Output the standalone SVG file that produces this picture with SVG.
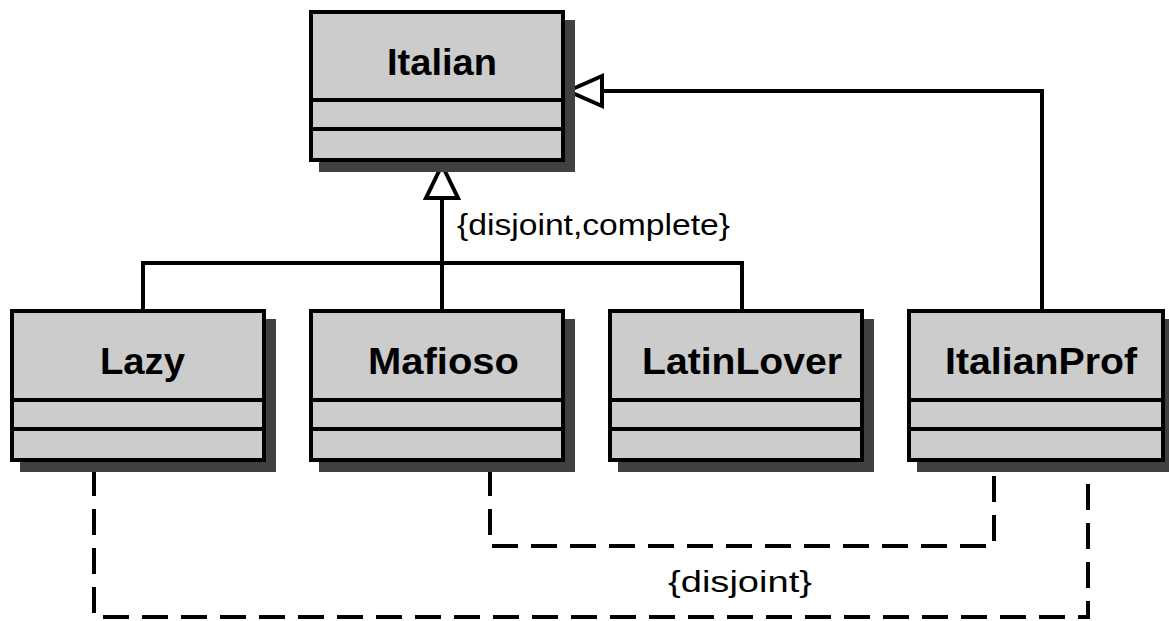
<svg xmlns="http://www.w3.org/2000/svg" width="1169" height="621" viewBox="0 0 1169 621">
<style>
.shadow{fill:#404040;stroke:none}
.box{fill:#cccccc;stroke:#000;stroke-width:4}
.div{stroke:#000;stroke-width:4}
.name{font-family:"Liberation Sans",Arial,sans-serif;font-weight:bold;font-size:37px;fill:#000}
.lbl{font-family:"Liberation Sans",Arial,sans-serif;font-size:29px;fill:#000}
.solid{fill:none;stroke:#000;stroke-width:4}
.dash{fill:none;stroke:#000;stroke-width:4;stroke-dasharray:26 13}
.tri{fill:#fff;stroke:#000;stroke-width:4;stroke-linejoin:miter}
</style>
<rect width="1169" height="621" fill="#fff"/>
<g id="connectors">
<polyline class="solid" points="143,309 143,263 742,263 742,309"/>
<line class="solid" x1="442" y1="309" x2="442" y2="198"/>
<polygon class="tri" points="442,165 426,198 458,198"/>
<polyline class="solid" points="1042,309 1042,91 602,91"/>
<polygon class="tri" points="568,91 602,76 602,106"/>
<polyline class="dash" points="490,470 490,546 994,546 994,470"/>
<polyline class="dash" points="94,470 94,617 1088,617 1088,470"/>
<text class="lbl" x="457" y="235" textLength="273" lengthAdjust="spacingAndGlyphs">{disjoint,complete}</text>
<text class="lbl" x="668" y="592" textLength="144" lengthAdjust="spacingAndGlyphs">{disjoint}</text>
</g>
<g id="Italian">
<rect class="shadow" x="319" y="20" width="256" height="152"/>
<rect class="box" x="311" y="12" width="252" height="148"/>
<line class="div" x1="311" y1="100" x2="563" y2="100"/>
<line class="div" x1="311" y1="129" x2="563" y2="129"/>
<text class="name" x="387" y="75" textLength="110" lengthAdjust="spacingAndGlyphs">Italian</text>
</g>
<g id="Lazy">
<rect class="shadow" x="20" y="319" width="256" height="153"/>
<rect class="box" x="12" y="311" width="252" height="149"/>
<line class="div" x1="12" y1="400" x2="264" y2="400"/>
<line class="div" x1="12" y1="429" x2="264" y2="429"/>
<text class="name" x="100" y="374" textLength="85" lengthAdjust="spacingAndGlyphs">Lazy</text>
</g>
<g id="Mafioso">
<rect class="shadow" x="319" y="319" width="256" height="153"/>
<rect class="box" x="311" y="311" width="252" height="149"/>
<line class="div" x1="311" y1="400" x2="563" y2="400"/>
<line class="div" x1="311" y1="429" x2="563" y2="429"/>
<text class="name" x="368" y="374" textLength="151" lengthAdjust="spacingAndGlyphs">Mafioso</text>
</g>
<g id="LatinLover">
<rect class="shadow" x="618" y="319" width="256" height="153"/>
<rect class="box" x="610" y="311" width="252" height="149"/>
<line class="div" x1="610" y1="400" x2="862" y2="400"/>
<line class="div" x1="610" y1="429" x2="862" y2="429"/>
<text class="name" x="642" y="374" textLength="200" lengthAdjust="spacingAndGlyphs">LatinLover</text>
</g>
<g id="ItalianProf">
<rect class="shadow" x="917" y="319" width="258" height="153"/>
<rect class="box" x="909" y="311" width="254" height="149"/>
<line class="div" x1="909" y1="400" x2="1163" y2="400"/>
<line class="div" x1="909" y1="429" x2="1163" y2="429"/>
<text class="name" x="945" y="374" textLength="192" lengthAdjust="spacingAndGlyphs">ItalianProf</text>
</g>
</svg>
